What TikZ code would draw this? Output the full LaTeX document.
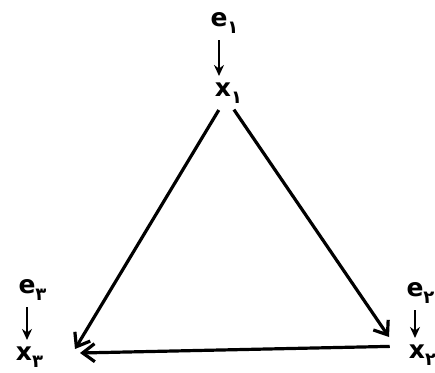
\documentclass[tikz,border=0pt]{standalone}
\usepackage{fontspec}
\setsansfont{DejaVu Sans}
\newfontfamily\digitfont[Script=Arabic]{DejaVu Sans}
\usetikzlibrary{arrows.meta}
\newcommand{\vlab}[2]{\textbf{#1}\rlap{\smash{\raisebox{-0.28em}{\fontsize{18}{20}\selectfont\digitfont\bfseries #2}}}}

\begin{document}
\begin{tikzpicture}[x=1pt, y=-1pt,
  lab/.style={font=\fontsize{25}{28}\selectfont\sffamily, inner sep=1pt},
  feed/.style={-{Stealth[length=11pt,width=10pt]}, line width=2.6pt, shorten <=12pt, shorten >=6pt},
  edge/.style={-{Straight Barb[length=12pt,width=18pt]}, line width=3.2pt}]
  \useasboundingbox (0,0) rectangle (435,372);
  \node[lab] (e1) at (219,20) {\vlab{e}{۱}};
  \node[lab] (x1) at (223,90) {\vlab{x}{۱}};
  \node[lab] (e3) at (27,287) {\vlab{e}{۳}};
  \node[lab] (x3) at (24,354) {\vlab{x}{۳}};
  \node[lab] (e2) at (415,290) {\vlab{e}{۲}};
  \node[lab] (x2) at (417,352) {\vlab{x}{۲}};
  \coordinate (l) at (75,349);
  \coordinate (lb) at (80,353);
  \coordinate (r) at (389,337);
  \draw[feed] (e1) -- (e1 |- x1.north);
  \draw[feed] (e3) -- (e3 |- x3.north);
  \draw[feed] (e2) -- (e2 |- x2.north);
  \draw[edge, shorten <=14pt] ([xshift=3pt]x1.south) -- (l);
  \draw[edge, shorten <=14pt] ([xshift=3pt]x1.south) -- (r);
  \draw[edge, shorten <=18pt] ([yshift=6pt]x2.west) -- (lb);
\end{tikzpicture}
\end{document}
